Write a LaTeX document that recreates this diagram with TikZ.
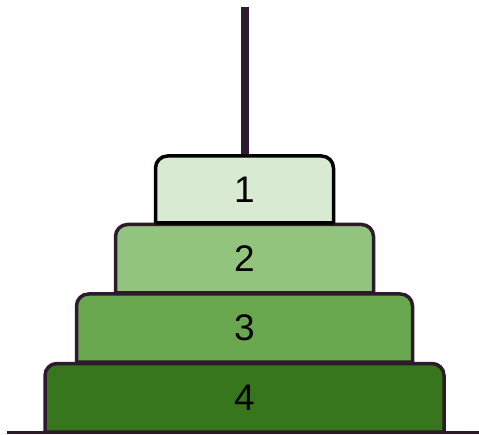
\documentclass[tikz,border=0pt]{standalone}
\usepackage{fontspec}
\setmainfont{Liberation Sans}
\usetikzlibrary{backgrounds}
\definecolor{rodcol}{HTML}{2E1A2D}
\definecolor{ringA}{HTML}{D9EAD3}
\definecolor{ringB}{HTML}{93C47D}
\definecolor{ringC}{HTML}{6AA84F}
\definecolor{ringD}{HTML}{38761D}
\tikzset{
  disk/.style={draw=none, inner sep=0pt, outer sep=0pt,
    font=\fontsize{37}{37}\selectfont, text=black},
  diskedge/.style={line width=3.5pt, line join=round},
  rod/.style={line width=8pt, draw=rodcol},
  ground/.style={line width=3pt, draw=rodcol},
}
% outline of a disk: square bottom, rounded top corners
\newcommand{\diskshape}[3]{%
  \filldraw[diskedge, fill=#2, draw=#3]
    (#1.south west) -- ([yshift=-12pt]#1.north west)
    arc[start angle=180, end angle=90, radius=12pt]
    -- ([xshift=-12pt]#1.north east)
    arc[start angle=90, end angle=0, radius=12pt]
    -- (#1.south east) -- cycle;}
\begin{document}
\begin{tikzpicture}[x=1pt, y=1pt]
  \useasboundingbox (0,0) rectangle (479,434);
  \node[disk, minimum width=399pt, minimum height=68.5pt] (d4) at (244.5,36.25) {4};
  \node[disk, minimum width=336pt, minimum height=68pt] (d3) at (244.5,106) {3};
  \node[disk, minimum width=258pt, minimum height=68.5pt] (d2) at (244.5,175.25) {2};
  \node[disk, minimum width=178pt, minimum height=67pt] (d1) at (244.5,244.5) {1};
  \coordinate (rodtop) at (244.5,427);
  \coordinate (gl) at (7,1.5);
  \coordinate (gr) at (479,1.5);
  \begin{scope}[on background layer]
    \draw[rod] (rodtop) -- (d1.north);
    \diskshape{d4}{ringD}{rodcol}
    \diskshape{d3}{ringC}{rodcol}
    \diskshape{d2}{ringB}{rodcol}
    \diskshape{d1}{ringA}{black}
    \draw[ground] (gl) -- (gr);
  \end{scope}
\end{tikzpicture}
\end{document}
